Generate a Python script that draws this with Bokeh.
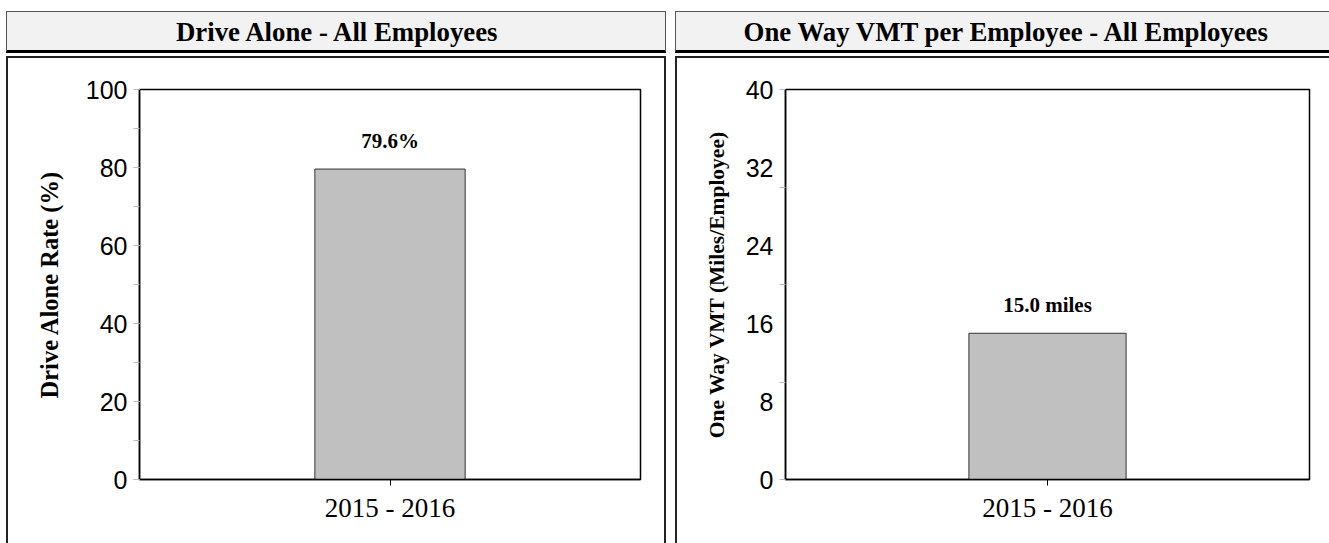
from bokeh.plotting import figure
from bokeh.models import FactorRange, Range1d, FixedTicker
from bokeh.layouts import row, column
from bokeh.embed import file_html
from bokeh.resources import INLINE
from bokeh.core.properties import value

# ---- data ----
periods = ["2015 - 2016"]
drive_alone_rate = [79.6]
drive_alone_labels = ["79.6%"]
vmt_per_employee = [15.0]
vmt_labels = ["15.0 miles"]

left_title = "Drive Alone - All Employees"
right_title = "One Way VMT per Employee - All Employees"
left_ylabel = "Drive Alone Rate (%)"
right_ylabel = "One Way VMT (Miles/Employee)"
left_ticks = [0, 20, 40, 60, 80, 100]
left_minor = [0, 10, 20, 30, 40, 50, 60, 70, 80, 90, 100]
right_ticks = [0, 8, 16, 24, 32, 40]
right_minor = [0, 10, 20, 30, 40]

SERIF = "Liberation Serif"
SANS = "Liberation Sans"
EDGE = "2px solid #222222"


def header(width, title, xpos, right_border=True):
    styles = {"border-top": "1px solid #555555", "border-left": "1px solid #555555",
              "border-bottom": "3px solid #000000", "background": "#f2f2f2"}
    if right_border:
        styles["border-right"] = "1px solid #555555"
    h = figure(width=width, height=42, x_range=Range1d(0, 1), y_range=Range1d(0, 1),
               x_axis_type=None, y_axis_type=None, output_backend="svg",
               toolbar_location=None, min_border=0, styles=styles,
               frame_align=False)
    h.xgrid.visible = False
    h.ygrid.visible = False
    h.outline_line_color = None
    h.background_fill_color = "#f2f2f2"
    h.border_fill_color = "#f2f2f2"
    h.text(x=[xpos], y=[0.53], text=[title], text_align="left",
           text_baseline="middle", text_font=value(SERIF),
           text_font_style="bold", text_font_size="26.8px", text_color="black")
    return h


def panel(width, height, ymax, vals, labels, ylabel, ticks, minor, major_tick_color,
          mb_left, mb_right, ylabel_size, ylabel_standoff, right_border=True):
    styles = {"border-top": EDGE, "border-left": EDGE}
    if right_border:
        styles["border-right"] = EDGE
    p = figure(width=width, height=height, x_range=FactorRange(factors=periods),
               y_range=Range1d(0, ymax), output_backend="svg",
               toolbar_location=None, min_border_left=mb_left,
               min_border_right=mb_right, min_border_top=31, min_border_bottom=66,
               styles=styles, frame_align=False)
    p.xgrid.visible = False
    p.ygrid.visible = False
    p.outline_line_color = "black"
    p.outline_line_width = 1.5
    p.background_fill_color = "white"
    p.border_fill_color = "white"

    p.vbar(x=periods, top=vals, width=0.3, fill_color="#c0c0c0",
           line_color="#333333", line_width=1)
    p.text(x=periods, y=vals, text=labels, text_align="center",
           text_baseline="alphabetic", y_offset=-28,
           text_font=value(SERIF), text_font_style="bold",
           text_font_size="21px", text_color="black")

    ya = p.yaxis[0]
    ya.ticker = FixedTicker(ticks=ticks, minor_ticks=minor)
    ya.axis_line_color = "black"
    ya.axis_line_width = 1.5
    ya.major_tick_line_color = major_tick_color
    ya.major_tick_out = 6
    ya.major_tick_in = 0
    ya.minor_tick_line_color = "#bbbbbb"
    ya.minor_tick_out = 6
    ya.minor_tick_in = 0
    ya.major_label_text_font = SANS
    ya.major_label_text_font_size = "25px"
    ya.major_label_text_color = "black"
    ya.major_label_standoff = 6
    ya.axis_label = ylabel
    ya.axis_label_text_font = SERIF
    ya.axis_label_text_font_style = "bold"
    ya.axis_label_text_font_size = ylabel_size
    ya.axis_label_text_color = "black"
    ya.axis_label_standoff = ylabel_standoff

    xa = p.xaxis[0]
    xa.axis_line_color = "black"
    xa.axis_line_width = 1.5
    xa.major_tick_line_color = "black"
    xa.major_tick_out = 6
    xa.major_tick_in = 0
    xa.major_label_text_font = SERIF
    xa.major_label_text_font_size = "27px"
    xa.major_label_text_color = "black"
    xa.major_label_standoff = 7
    return p


left_head = header(660, left_title, 0.2553)
left = panel(660, 487, 100, drive_alone_rate, drive_alone_labels, left_ylabel,
             left_ticks, left_minor, "#bbbbbb", 131, 28, "24.5px", 20)
right_head = header(654, right_title, 0.1026, right_border=False)
right = panel(654, 487, 40, vmt_per_employee, vmt_labels, right_ylabel,
              right_ticks, right_minor, None, 108, 22, "21.5px", 14,
              right_border=False)

layout = row(column(left_head, left, spacing=3), column(right_head, right, spacing=3),
             spacing=9, margin=(11, 0, 0, 6))
open("out.html", "w").write(file_html(layout, INLINE))
